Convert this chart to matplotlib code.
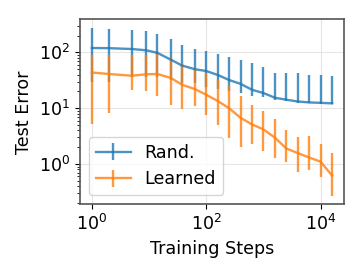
import numpy as np
import matplotlib.pyplot as plt
from matplotlib.ticker import LogLocator, NullLocator

# training steps (log-spaced checkpoints)
steps = [1, 2, 5, 9, 14, 24, 38, 63, 100, 158, 251, 398, 631, 1000,
         1585, 2512, 3981, 6310, 10000, 15849]

# Rand.: centre, upper and lower ends of the bars
rand_mid = [120, 119, 115, 109, 98, 74, 58, 50, 46.4, 39.5, 32, 27.3, 21.4,
            18.7, 15.4, 14.2, 13.2, 12.7, 12.5, 12.2]
rand_hi = [276, 265, 255, 238, 216, 176, 134, 113, 105, 95.5, 83, 72.7, 65,
           55.3, 43.3, 43.3, 42.3, 39.4, 39.4, 38.3]
rand_lo = [30, 30, 36, 36, 36, 32, 28, 28, 24.5, 22.3, 20, 18.7, 16.5,
           16, 13.8, 13.3, 12.4, 12.4, 12.1, 12.1]

# Learned
learn_mid = [43.6, 41, 38.2, 40.6, 41, 34.9, 26.2, 22.1, 17.4, 13.5, 10,
             6.73, 5.12, 4.18, 2.97, 1.90, 1.57, 1.31, 1.10, 0.62]
learn_hi = [89, 89, 89, 89, 95.5, 78, 63.6, 51.8, 42.3, 32.1, 26.2, 16.3,
            11.6, 8.8, 6.46, 4.06, 3.1, 3.18, 2.26, 1.57]
learn_lo = [5.2, 8.3, 20.8, 20, 16.7, 11.6, 9.7, 10.8, 7.7, 5.1, 2.97, 2.06,
            2.26, 1.72, 1.26, 1.07, 0.71, 0.78, 0.58, 0.27]

plt.rcParams['font.size'] = 12.6

fig = plt.figure(figsize=(3.63, 2.73), dpi=100)
ax = fig.add_axes([0.22, 0.252, 0.728, 0.677])


def draw(mid, lo, hi, color, label):
    mid = np.array(mid)
    err = [mid - np.array(lo), np.array(hi) - mid]
    ax.errorbar(steps, mid, yerr=err, color=color, alpha=0.8, lw=1.7,
                elinewidth=1.7, capsize=0, label=label)


draw(rand_mid, rand_lo, rand_hi, 'tab:blue', 'Rand.')
draw(learn_mid, learn_lo, learn_hi, 'tab:orange', 'Learned')

ax.set_xscale('log')
ax.set_yscale('log')
ax.xaxis.set_major_locator(LogLocator(base=100))
ax.xaxis.set_minor_locator(NullLocator())
ax.grid(True, which='major', color='#e6e6e6', lw=0.8)
ax.set_axisbelow(True)
for s in ax.spines.values():
    s.set_color('#555555')
    s.set_linewidth(1.2)

ax.set_xlabel('Training Steps')
ax.set_ylabel('Test Error')
ax.legend(loc='lower left')

fig.savefig('out.png', dpi=100)
